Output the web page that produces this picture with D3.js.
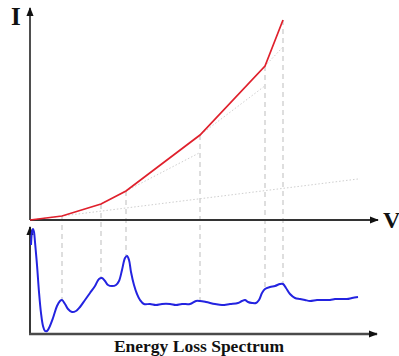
<!DOCTYPE html>
<html>
<head>
<meta charset="utf-8">
<script src="https://cdn.jsdelivr.net/npm/d3@7"></script>
<style>
  body { margin: 0; background: #fff; }
  svg { display: block; }
</style>
</head>
<body>
<div id="rootDiv"></div>
<script>
const width = 399
const height = 356

// I-V curve (arbitrary units)
const voltage = [0, 32, 71, 96, 170, 235, 253]
const current = [0, 4, 16, 29, 85, 154, 200]
// dotted extensions: [segment index, end voltage]
const extensions = [[0, 330], [2, 170], [3, 235], [4, 253]]

// energy loss spectrum
const energy = [1, 2, 3, 4, 5, 7, 9, 11, 13, 15, 17, 19, 23, 27, 30, 32, 35, 38, 42, 46, 50, 55, 60, 65, 69, 72, 75, 78, 82, 86, 89, 92, 95, 97, 99, 101, 104, 107, 110, 114, 120, 126, 132, 140, 146, 152, 160, 166, 170, 176, 185, 192, 200, 208, 212, 215, 218, 222, 226, 229, 232, 235, 240, 245, 250, 253, 256, 260, 265, 270, 275, 280, 287, 293, 300, 305, 310, 317, 322, 328]
const intensity = [88, 101, 104, 101, 91, 68, 41, 20, 7, 2, 2, 5, 15, 27, 32, 33, 29, 24, 21, 22, 26, 33, 40, 47, 54, 55, 52, 48, 47, 48, 52, 63, 75, 77, 73, 61, 48, 39, 33, 29, 29, 28, 29, 29, 28, 29, 29, 32, 32, 31, 29, 28, 29, 30, 32, 33, 31, 30, 30, 33, 40, 44, 46, 47, 49, 49, 45, 39, 35, 34, 33, 32, 33, 33, 33, 34, 34, 34, 35, 36]

const svg = d3.select("#rootDiv")
    .append("svg")
    .attr("width", width)
    .attr("height", height)

const defs = svg.append("defs")
defs.append("marker")
    .attr("id", "arrow")
    .attr("viewBox", "0 0 10 10")
    .attr("refX", 9)
    .attr("refY", 5)
    .attr("markerWidth", 9)
    .attr("markerHeight", 9)
    .attr("markerUnits", "userSpaceOnUse")
    .attr("orient", "auto")
    .append("path")
    .attr("d", "M0,1L10,5L0,9Z")
    .attr("fill", "#111")

const x = d3.scaleLinear().domain([0, 345]).range([30, 375])
const yTop = d3.scaleLinear().domain([0, 210]).range([220, 10])
const yBot = d3.scaleLinear().domain([0, 105]).range([333, 228])

const vertices = voltage.map((v, i) => [v, current[i]])
const spectrum = energy.map((e, i) => [e, intensity[i]])

function spectrumAt(v) {
    const i = d3.bisector(d => d[0]).left(spectrum, v)
    if (i <= 0) return spectrum[0][1]
    if (i >= spectrum.length) return spectrum[spectrum.length - 1][1]
    const a = spectrum[i - 1], b = spectrum[i]
    return a[1] + (b[1] - a[1]) * (v - a[0]) / (b[0] - a[0])
}

// dashed guides from each knee down to the spectrum
svg.append("g")
    .selectAll("line")
    .data(vertices.slice(1))
    .join("line")
    .attr("x1", d => x(d[0]))
    .attr("x2", d => x(d[0]))
    .attr("y1", d => yTop(d[1]))
    .attr("y2", d => yBot(spectrumAt(d[0])))
    .attr("stroke", "#c8c8c8")
    .attr("stroke-width", 1.2)
    .attr("stroke-dasharray", "5,4")

// dotted segment extensions
svg.append("g")
    .selectAll("line")
    .data(extensions)
    .join("line")
    .each(function ([s, vEnd]) {
        const [v0, i0] = vertices[s], [v1, i1] = vertices[s + 1]
        const slope = (i1 - i0) / (v1 - v0)
        d3.select(this)
            .attr("x1", x(v0))
            .attr("y1", yTop(i0))
            .attr("x2", x(vEnd))
            .attr("y2", yTop(i0 + slope * (vEnd - v0)))
    })
    .attr("stroke", "#cfcfcf")
    .attr("stroke-width", 1)
    .attr("stroke-dasharray", "1.5,2")

// axes
function axisLine(x1, y1, x2, y2, w, color) {
    svg.append("line")
        .attr("x1", x1).attr("y1", y1)
        .attr("x2", x2).attr("y2", y2)
        .attr("stroke", color)
        .attr("stroke-width", w)
        .attr("marker-end", "url(#arrow)")
}
axisLine(x(0), yTop(0), x(0), 8, 1.6, "#222")
axisLine(x(0), yTop(0), 378, yTop(0), 1.8, "#333")
axisLine(x(0), 334, x(0), 227, 1.8, "#222")
axisLine(x(0) - 1, 334, 377, 334, 2.6, "#4a4a4a")

// I-V line
svg.append("path")
    .datum(vertices)
    .attr("d", d3.line().x(d => x(d[0])).y(d => yTop(d[1])))
    .attr("fill", "none")
    .attr("stroke", "#e0202c")
    .attr("stroke-width", 1.7)

// spectrum
svg.append("path")
    .datum(spectrum)
    .attr("d", d3.line().x(d => x(d[0])).y(d => yBot(d[1])).curve(d3.curveCatmullRom))
    .attr("fill", "none")
    .attr("stroke", "#2323e0")
    .attr("stroke-width", 2)

// labels
const serif = "'Liberation Serif', 'DejaVu Serif', serif"
svg.append("text")
    .attr("x", 11).attr("y", 25)
    .attr("font-family", serif).attr("font-weight", "bold").attr("font-size", 25)
    .attr("fill", "#111")
    .text("I")
svg.append("text")
    .attr("x", 383).attr("y", 228)
    .attr("font-family", serif).attr("font-weight", "bold").attr("font-size", 24)
    .attr("fill", "#111")
    .text("V")
svg.append("text")
    .attr("x", 199).attr("y", 352)
    .attr("text-anchor", "middle")
    .attr("font-family", serif).attr("font-weight", "bold").attr("font-size", 17.5)
    .attr("fill", "#111")
    .text("Energy Loss Spectrum")
</script>
</body>
</html>
